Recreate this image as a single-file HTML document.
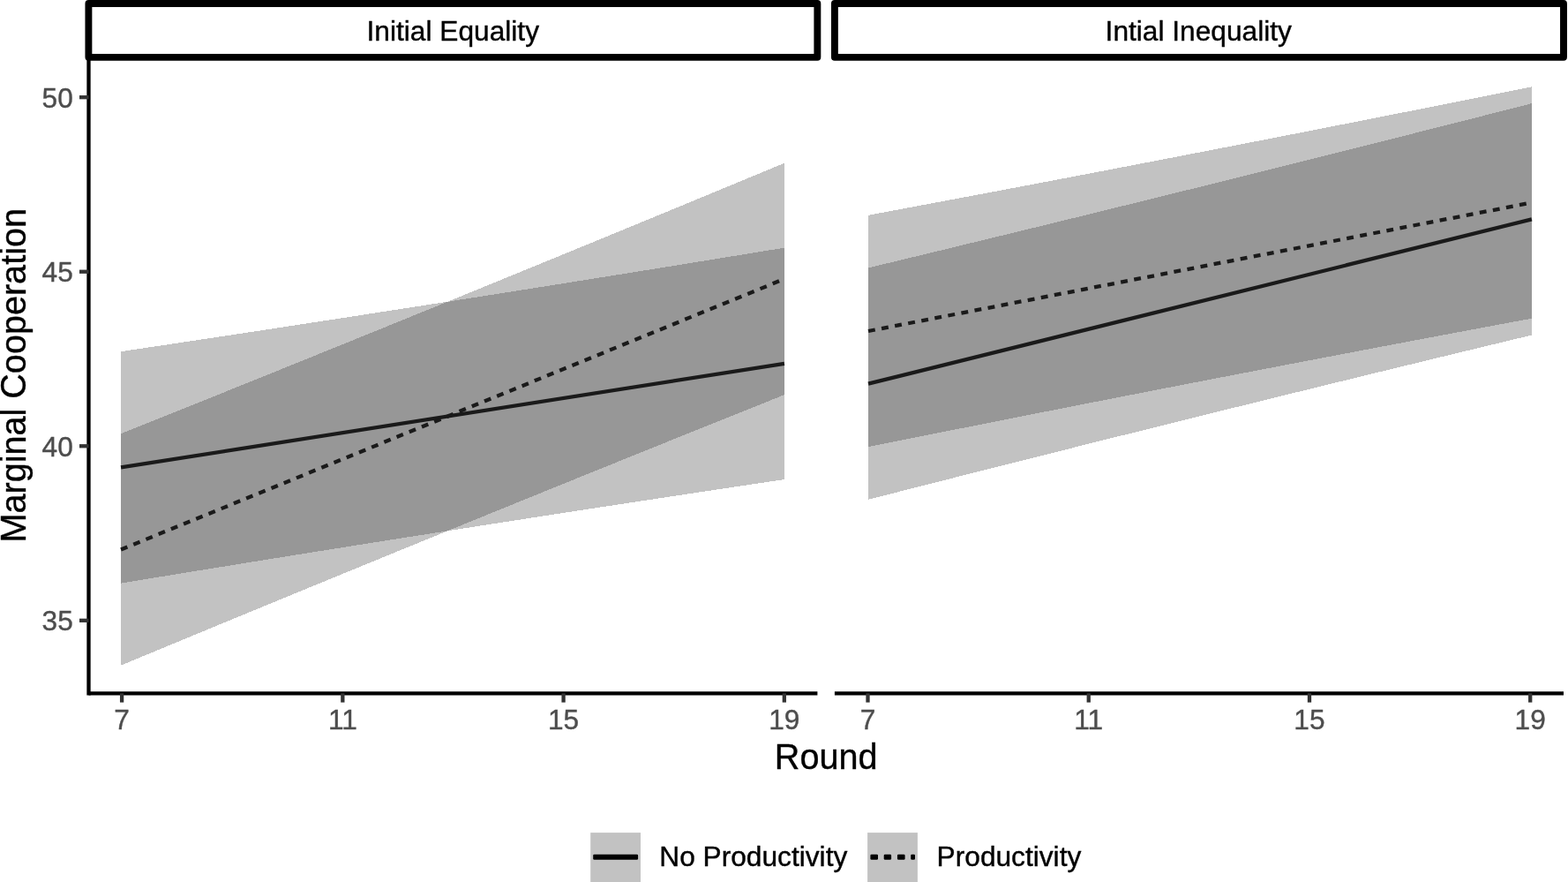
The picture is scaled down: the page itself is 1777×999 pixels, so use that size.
<!DOCTYPE html>
<html lang="en"><head><meta charset="utf-8"><title>Marginal Cooperation by Round</title>
<style>
html,body{margin:0;padding:0;background:#fff;}
body{width:1777px;height:999px;overflow:hidden;}
svg{display:block;}
text{font-family:"Liberation Sans",Arial,Helvetica,sans-serif;}
.sm{font-size:31.68px;}
.bg{font-size:39.6px;}
</style></head><body>
<svg width="1777" height="999" viewBox="0 0 1777 999">
<rect width="1777" height="999" fill="#fff"/>
<g shape-rendering="crispEdges">
<polygon points="137.05,398.20 144.88,397.03 152.71,395.86 160.55,394.70 168.38,393.52 176.21,392.35 184.04,391.18 191.87,390.01 199.70,388.83 207.54,387.65 215.37,386.48 223.20,385.30 231.03,384.12 238.86,382.94 246.69,381.75 254.53,380.57 262.36,379.38 270.19,378.20 278.02,377.01 285.85,375.82 293.69,374.63 301.52,373.44 309.35,372.25 317.18,371.06 325.01,369.86 332.84,368.67 340.68,367.47 348.51,366.27 356.34,365.07 364.17,363.87 372.00,362.67 379.83,361.46 387.67,360.26 395.50,359.05 403.33,357.85 411.16,356.64 418.99,355.43 426.83,354.22 434.66,353.01 442.49,351.80 450.32,350.58 458.15,349.37 465.98,348.15 473.82,346.93 481.65,345.71 489.48,344.49 497.31,343.27 505.14,342.05 512.97,340.82 520.81,339.60 528.64,338.37 536.47,337.15 544.30,335.92 552.13,334.69 559.97,333.46 567.80,332.22 575.63,330.99 583.46,329.76 591.29,328.52 599.12,327.28 606.96,326.04 614.79,324.80 622.62,323.56 630.45,322.32 638.28,321.08 646.12,319.83 653.95,318.59 661.78,317.34 669.61,316.09 677.44,314.84 685.27,313.59 693.11,312.34 700.94,311.09 708.77,309.83 716.60,308.58 724.43,307.32 732.26,306.06 740.10,304.80 747.93,303.54 755.76,302.28 763.59,301.02 771.42,299.75 779.26,298.49 787.09,297.22 794.92,295.95 802.75,294.69 810.58,293.42 818.41,292.14 826.25,290.87 834.08,289.60 841.91,288.32 849.74,287.05 857.57,285.77 865.40,284.49 873.24,283.21 881.07,281.93 888.90,280.65 888.90,543.05 881.07,544.22 873.24,545.39 865.40,546.55 857.57,547.73 849.74,548.90 841.91,550.07 834.08,551.24 826.25,552.42 818.41,553.60 810.58,554.77 802.75,555.95 794.92,557.13 787.09,558.31 779.26,559.50 771.42,560.68 763.59,561.87 755.76,563.05 747.93,564.24 740.10,565.43 732.26,566.62 724.43,567.81 716.60,569.00 708.77,570.19 700.94,571.39 693.11,572.58 685.27,573.78 677.44,574.98 669.61,576.18 661.78,577.38 653.95,578.58 646.12,579.79 638.28,580.99 630.45,582.20 622.62,583.40 614.79,584.61 606.96,585.82 599.12,587.03 591.29,588.24 583.46,589.45 575.63,590.67 567.80,591.88 559.97,593.10 552.13,594.32 544.30,595.54 536.47,596.76 528.64,597.98 520.81,599.20 512.97,600.42 505.14,601.65 497.31,602.88 489.48,604.10 481.65,605.33 473.82,606.56 465.98,607.79 458.15,609.03 450.32,610.26 442.49,611.49 434.66,612.73 426.83,613.97 418.99,615.21 411.16,616.45 403.33,617.69 395.50,618.93 387.67,620.17 379.83,621.42 372.00,622.66 364.17,623.91 356.34,625.16 348.51,626.41 340.68,627.66 332.84,628.91 325.01,630.16 317.18,631.42 309.35,632.67 301.52,633.93 293.69,635.19 285.85,636.45 278.02,637.71 270.19,638.97 262.36,640.23 254.53,641.50 246.69,642.76 238.86,644.03 231.03,645.30 223.20,646.56 215.37,647.83 207.54,649.11 199.70,650.38 191.87,651.65 184.04,652.93 176.21,654.20 168.38,655.48 160.55,656.76 152.71,658.04 144.88,659.32 137.05,660.60" fill="#c2c2c2"/>
<polygon points="137.05,491.25 144.88,488.11 152.71,484.98 160.55,481.84 168.38,478.70 176.21,475.56 184.04,472.42 191.87,469.28 199.70,466.13 207.54,462.99 215.37,459.84 223.20,456.70 231.03,453.55 238.86,450.40 246.69,447.25 254.53,444.10 262.36,440.94 270.19,437.79 278.02,434.63 285.85,431.48 293.69,428.32 301.52,425.16 309.35,422.00 317.18,418.84 325.01,415.67 332.84,412.51 340.68,409.34 348.51,406.18 356.34,403.01 364.17,399.84 372.00,396.67 379.83,393.50 387.67,390.33 395.50,387.15 403.33,383.98 411.16,380.80 418.99,377.62 426.83,374.45 434.66,371.27 442.49,368.08 450.32,364.90 458.15,361.72 465.98,358.53 473.82,355.35 481.65,352.16 489.48,348.97 497.31,345.78 505.14,342.59 512.97,339.40 520.81,336.21 528.64,333.01 536.47,329.82 544.30,326.62 552.13,323.42 559.97,320.22 567.80,317.02 575.63,313.82 583.46,310.62 591.29,307.41 599.12,304.21 606.96,301.00 614.79,297.79 622.62,294.58 630.45,291.37 638.28,288.16 646.12,284.95 653.95,281.73 661.78,278.52 669.61,275.30 677.44,272.08 685.27,268.87 693.11,265.64 700.94,262.42 708.77,259.20 716.60,255.98 724.43,252.75 732.26,249.53 740.10,246.30 747.93,243.07 755.76,239.84 763.59,236.61 771.42,233.38 779.26,230.14 787.09,226.91 794.92,223.67 802.75,220.44 810.58,217.20 818.41,213.96 826.25,210.72 834.08,207.48 841.91,204.23 849.74,200.99 857.57,197.74 865.40,194.50 873.24,191.25 881.07,188.00 888.90,184.75 888.90,447.15 881.07,450.29 873.24,453.42 865.40,456.56 857.57,459.70 849.74,462.84 841.91,465.98 834.08,469.12 826.25,472.27 818.41,475.41 810.58,478.56 802.75,481.70 794.92,484.85 787.09,488.00 779.26,491.15 771.42,494.30 763.59,497.46 755.76,500.61 747.93,503.77 740.10,506.92 732.26,510.08 724.43,513.24 716.60,516.40 708.77,519.56 700.94,522.73 693.11,525.89 685.27,529.06 677.44,532.22 669.61,535.39 661.78,538.56 653.95,541.73 646.12,544.90 638.28,548.07 630.45,551.25 622.62,554.42 614.79,557.60 606.96,560.78 599.12,563.95 591.29,567.13 583.46,570.32 575.63,573.50 567.80,576.68 559.97,579.87 552.13,583.05 544.30,586.24 536.47,589.43 528.64,592.62 520.81,595.81 512.97,599.00 505.14,602.19 497.31,605.39 489.48,608.58 481.65,611.78 473.82,614.98 465.98,618.18 458.15,621.38 450.32,624.58 442.49,627.78 434.66,630.99 426.83,634.19 418.99,637.40 411.16,640.61 403.33,643.82 395.50,647.03 387.67,650.24 379.83,653.45 372.00,656.67 364.17,659.88 356.34,663.10 348.51,666.32 340.68,669.53 332.84,672.76 325.01,675.98 317.18,679.20 309.35,682.42 301.52,685.65 293.69,688.87 285.85,692.10 278.02,695.33 270.19,698.56 262.36,701.79 254.53,705.02 246.69,708.26 238.86,711.49 231.03,714.73 223.20,717.96 215.37,721.20 207.54,724.44 199.70,727.68 191.87,730.92 184.04,734.17 176.21,737.41 168.38,740.66 160.55,743.90 152.71,747.15 144.88,750.40 137.05,753.65" fill="#c2c2c2"/>
<polygon points="137.05,491.25 144.88,488.11 152.71,484.98 160.55,481.84 168.38,478.70 176.21,475.56 184.04,472.42 191.87,469.28 199.70,466.13 207.54,462.99 215.37,459.84 223.20,456.70 231.03,453.55 238.86,450.40 246.69,447.25 254.53,444.10 262.36,440.94 270.19,437.79 278.02,434.63 285.85,431.48 293.69,428.32 301.52,425.16 309.35,422.00 317.18,418.84 325.01,415.67 332.84,412.51 340.68,409.34 348.51,406.18 356.34,403.01 364.17,399.84 372.00,396.67 379.83,393.50 387.67,390.33 395.50,387.15 403.33,383.98 411.16,380.80 418.99,377.62 426.83,374.45 434.66,371.27 442.49,368.08 450.32,364.90 458.15,361.72 465.98,358.53 473.82,355.35 481.65,352.16 489.48,348.97 497.31,345.78 505.14,342.59 512.97,340.82 520.81,339.60 528.64,338.37 536.47,337.15 544.30,335.92 552.13,334.69 559.97,333.46 567.80,332.22 575.63,330.99 583.46,329.76 591.29,328.52 599.12,327.28 606.96,326.04 614.79,324.80 622.62,323.56 630.45,322.32 638.28,321.08 646.12,319.83 653.95,318.59 661.78,317.34 669.61,316.09 677.44,314.84 685.27,313.59 693.11,312.34 700.94,311.09 708.77,309.83 716.60,308.58 724.43,307.32 732.26,306.06 740.10,304.80 747.93,303.54 755.76,302.28 763.59,301.02 771.42,299.75 779.26,298.49 787.09,297.22 794.92,295.95 802.75,294.69 810.58,293.42 818.41,292.14 826.25,290.87 834.08,289.60 841.91,288.32 849.74,287.05 857.57,285.77 865.40,284.49 873.24,283.21 881.07,281.93 888.90,280.65 888.90,447.15 881.07,450.29 873.24,453.42 865.40,456.56 857.57,459.70 849.74,462.84 841.91,465.98 834.08,469.12 826.25,472.27 818.41,475.41 810.58,478.56 802.75,481.70 794.92,484.85 787.09,488.00 779.26,491.15 771.42,494.30 763.59,497.46 755.76,500.61 747.93,503.77 740.10,506.92 732.26,510.08 724.43,513.24 716.60,516.40 708.77,519.56 700.94,522.73 693.11,525.89 685.27,529.06 677.44,532.22 669.61,535.39 661.78,538.56 653.95,541.73 646.12,544.90 638.28,548.07 630.45,551.25 622.62,554.42 614.79,557.60 606.96,560.78 599.12,563.95 591.29,567.13 583.46,570.32 575.63,573.50 567.80,576.68 559.97,579.87 552.13,583.05 544.30,586.24 536.47,589.43 528.64,592.62 520.81,595.81 512.97,599.00 505.14,601.65 497.31,602.88 489.48,604.10 481.65,605.33 473.82,606.56 465.98,607.79 458.15,609.03 450.32,610.26 442.49,611.49 434.66,612.73 426.83,613.97 418.99,615.21 411.16,616.45 403.33,617.69 395.50,618.93 387.67,620.17 379.83,621.42 372.00,622.66 364.17,623.91 356.34,625.16 348.51,626.41 340.68,627.66 332.84,628.91 325.01,630.16 317.18,631.42 309.35,632.67 301.52,633.93 293.69,635.19 285.85,636.45 278.02,637.71 270.19,638.97 262.36,640.23 254.53,641.50 246.69,642.76 238.86,644.03 231.03,645.30 223.20,646.56 215.37,647.83 207.54,649.11 199.70,650.38 191.87,651.65 184.04,652.93 176.21,654.20 168.38,655.48 160.55,656.76 152.71,658.04 144.88,659.32 137.05,660.60" fill="#979797"/>
</g>
<line x1="137.05" y1="529.40" x2="888.90" y2="411.85" stroke="#1a1a1a" stroke-width="4.3"/>
<line x1="137.05" y1="622.45" x2="888.90" y2="315.95" stroke="#1a1a1a" stroke-width="4.3" stroke-dasharray="7.9 7.44"/>
<g shape-rendering="crispEdges">
<polygon points="984.00,303.40 991.83,301.52 999.66,299.63 1007.50,297.75 1015.33,295.86 1023.16,293.97 1030.99,292.09 1038.83,290.20 1046.66,288.31 1054.49,286.41 1062.32,284.52 1070.16,282.63 1077.99,280.73 1085.82,278.83 1093.65,276.93 1101.48,275.03 1109.32,273.13 1117.15,271.23 1124.98,269.33 1132.81,267.43 1140.65,265.52 1148.48,263.61 1156.31,261.71 1164.14,259.80 1171.97,257.89 1179.81,255.97 1187.64,254.06 1195.47,252.15 1203.30,250.23 1211.14,248.32 1218.97,246.40 1226.80,244.48 1234.63,242.56 1242.47,240.64 1250.30,238.72 1258.13,236.79 1265.96,234.87 1273.79,232.94 1281.63,231.01 1289.46,229.09 1297.29,227.16 1305.12,225.23 1312.96,223.29 1320.79,221.36 1328.62,219.43 1336.45,217.49 1344.29,215.55 1352.12,213.61 1359.95,211.68 1367.78,209.73 1375.61,207.79 1383.45,205.85 1391.28,203.90 1399.11,201.96 1406.94,200.01 1414.78,198.06 1422.61,196.12 1430.44,194.16 1438.27,192.21 1446.11,190.26 1453.94,188.31 1461.77,186.35 1469.60,184.39 1477.43,182.44 1485.27,180.48 1493.10,178.52 1500.93,176.56 1508.76,174.59 1516.60,172.63 1524.43,170.66 1532.26,168.70 1540.09,166.73 1547.93,164.76 1555.76,162.79 1563.59,160.82 1571.42,158.85 1579.25,156.87 1587.09,154.90 1594.92,152.92 1602.75,150.95 1610.58,148.97 1618.42,146.99 1626.25,145.01 1634.08,143.03 1641.91,141.04 1649.74,139.06 1657.58,137.07 1665.41,135.09 1673.24,133.10 1681.07,131.11 1688.91,129.12 1696.74,127.13 1704.57,125.13 1712.40,123.14 1720.24,121.14 1728.07,119.15 1735.90,117.15 1735.90,379.55 1728.07,381.43 1720.24,383.32 1712.40,385.20 1704.57,387.09 1696.74,388.98 1688.91,390.86 1681.07,392.75 1673.24,394.64 1665.41,396.54 1657.58,398.43 1649.74,400.32 1641.91,402.22 1634.08,404.12 1626.25,406.02 1618.42,407.92 1610.58,409.82 1602.75,411.72 1594.92,413.62 1587.09,415.52 1579.25,417.43 1571.42,419.34 1563.59,421.24 1555.76,423.15 1547.93,425.06 1540.09,426.98 1532.26,428.89 1524.43,430.80 1516.60,432.72 1508.76,434.63 1500.93,436.55 1493.10,438.47 1485.27,440.39 1477.43,442.31 1469.60,444.23 1461.77,446.16 1453.94,448.08 1446.11,450.01 1438.27,451.94 1430.44,453.86 1422.61,455.79 1414.78,457.72 1406.94,459.66 1399.11,461.59 1391.28,463.52 1383.45,465.46 1375.61,467.40 1367.78,469.34 1359.95,471.28 1352.12,473.22 1344.29,475.16 1336.45,477.10 1328.62,479.05 1320.79,480.99 1312.96,482.94 1305.12,484.89 1297.29,486.83 1289.46,488.79 1281.63,490.74 1273.79,492.69 1265.96,494.64 1258.13,496.60 1250.30,498.56 1242.47,500.51 1234.63,502.47 1226.80,504.43 1218.97,506.39 1211.14,508.36 1203.30,510.32 1195.47,512.29 1187.64,514.25 1179.81,516.22 1171.97,518.19 1164.14,520.16 1156.31,522.13 1148.48,524.10 1140.65,526.08 1132.81,528.05 1124.98,530.03 1117.15,532.00 1109.32,533.98 1101.48,535.96 1093.65,537.94 1085.82,539.92 1077.99,541.91 1070.16,543.89 1062.32,545.88 1054.49,547.86 1046.66,549.85 1038.83,551.84 1030.99,553.83 1023.16,555.82 1015.33,557.82 1007.50,559.81 999.66,561.81 991.83,563.80 984.00,565.80" fill="#c2c2c2"/>
<polygon points="984.00,243.80 991.83,242.34 999.66,240.88 1007.50,239.42 1015.33,237.96 1023.16,236.50 1030.99,235.03 1038.83,233.57 1046.66,232.10 1054.49,230.63 1062.32,229.16 1070.16,227.69 1077.99,226.22 1085.82,224.75 1093.65,223.28 1101.48,221.80 1109.32,220.33 1117.15,218.85 1124.98,217.37 1132.81,215.89 1140.65,214.41 1148.48,212.93 1156.31,211.44 1164.14,209.96 1171.97,208.47 1179.81,206.99 1187.64,205.50 1195.47,204.01 1203.30,202.52 1211.14,201.03 1218.97,199.53 1226.80,198.04 1234.63,196.54 1242.47,195.05 1250.30,193.55 1258.13,192.05 1265.96,190.55 1273.79,189.05 1281.63,187.55 1289.46,186.04 1297.29,184.54 1305.12,183.03 1312.96,181.52 1320.79,180.01 1328.62,178.50 1336.45,176.99 1344.29,175.48 1352.12,173.97 1359.95,172.45 1367.78,170.93 1375.61,169.42 1383.45,167.90 1391.28,166.38 1399.11,164.86 1406.94,163.33 1414.78,161.81 1422.61,160.29 1430.44,158.76 1438.27,157.23 1446.11,155.70 1453.94,154.17 1461.77,152.64 1469.60,151.11 1477.43,149.58 1485.27,148.04 1493.10,146.51 1500.93,144.97 1508.76,143.43 1516.60,141.89 1524.43,140.35 1532.26,138.81 1540.09,137.27 1547.93,135.72 1555.76,134.18 1563.59,132.63 1571.42,131.08 1579.25,129.53 1587.09,127.98 1594.92,126.43 1602.75,124.88 1610.58,123.33 1618.42,121.77 1626.25,120.21 1634.08,118.66 1641.91,117.10 1649.74,115.54 1657.58,113.98 1665.41,112.41 1673.24,110.85 1681.07,109.29 1688.91,107.72 1696.74,106.15 1704.57,104.59 1712.40,103.02 1720.24,101.44 1728.07,99.87 1735.90,98.30 1735.90,360.70 1728.07,362.16 1720.24,363.62 1712.40,365.08 1704.57,366.54 1696.74,368.00 1688.91,369.47 1681.07,370.93 1673.24,372.40 1665.41,373.87 1657.58,375.34 1649.74,376.81 1641.91,378.28 1634.08,379.75 1626.25,381.22 1618.42,382.70 1610.58,384.17 1602.75,385.65 1594.92,387.13 1587.09,388.61 1579.25,390.09 1571.42,391.57 1563.59,393.06 1555.76,394.54 1547.93,396.03 1540.09,397.51 1532.26,399.00 1524.43,400.49 1516.60,401.98 1508.76,403.47 1500.93,404.97 1493.10,406.46 1485.27,407.96 1477.43,409.45 1469.60,410.95 1461.77,412.45 1453.94,413.95 1446.11,415.45 1438.27,416.95 1430.44,418.46 1422.61,419.96 1414.78,421.47 1406.94,422.98 1399.11,424.49 1391.28,426.00 1383.45,427.51 1375.61,429.02 1367.78,430.53 1359.95,432.05 1352.12,433.57 1344.29,435.08 1336.45,436.60 1328.62,438.12 1320.79,439.64 1312.96,441.17 1305.12,442.69 1297.29,444.21 1289.46,445.74 1281.63,447.27 1273.79,448.80 1265.96,450.33 1258.13,451.86 1250.30,453.39 1242.47,454.92 1234.63,456.46 1226.80,457.99 1218.97,459.53 1211.14,461.07 1203.30,462.61 1195.47,464.15 1187.64,465.69 1179.81,467.23 1171.97,468.78 1164.14,470.32 1156.31,471.87 1148.48,473.42 1140.65,474.97 1132.81,476.52 1124.98,478.07 1117.15,479.62 1109.32,481.17 1101.48,482.73 1093.65,484.29 1085.82,485.84 1077.99,487.40 1070.16,488.96 1062.32,490.52 1054.49,492.09 1046.66,493.65 1038.83,495.21 1030.99,496.78 1023.16,498.35 1015.33,499.91 1007.50,501.48 999.66,503.06 991.83,504.63 984.00,506.20" fill="#c2c2c2"/>
<polygon points="984.00,303.40 991.83,301.52 999.66,299.63 1007.50,297.75 1015.33,295.86 1023.16,293.97 1030.99,292.09 1038.83,290.20 1046.66,288.31 1054.49,286.41 1062.32,284.52 1070.16,282.63 1077.99,280.73 1085.82,278.83 1093.65,276.93 1101.48,275.03 1109.32,273.13 1117.15,271.23 1124.98,269.33 1132.81,267.43 1140.65,265.52 1148.48,263.61 1156.31,261.71 1164.14,259.80 1171.97,257.89 1179.81,255.97 1187.64,254.06 1195.47,252.15 1203.30,250.23 1211.14,248.32 1218.97,246.40 1226.80,244.48 1234.63,242.56 1242.47,240.64 1250.30,238.72 1258.13,236.79 1265.96,234.87 1273.79,232.94 1281.63,231.01 1289.46,229.09 1297.29,227.16 1305.12,225.23 1312.96,223.29 1320.79,221.36 1328.62,219.43 1336.45,217.49 1344.29,215.55 1352.12,213.61 1359.95,211.68 1367.78,209.73 1375.61,207.79 1383.45,205.85 1391.28,203.90 1399.11,201.96 1406.94,200.01 1414.78,198.06 1422.61,196.12 1430.44,194.16 1438.27,192.21 1446.11,190.26 1453.94,188.31 1461.77,186.35 1469.60,184.39 1477.43,182.44 1485.27,180.48 1493.10,178.52 1500.93,176.56 1508.76,174.59 1516.60,172.63 1524.43,170.66 1532.26,168.70 1540.09,166.73 1547.93,164.76 1555.76,162.79 1563.59,160.82 1571.42,158.85 1579.25,156.87 1587.09,154.90 1594.92,152.92 1602.75,150.95 1610.58,148.97 1618.42,146.99 1626.25,145.01 1634.08,143.03 1641.91,141.04 1649.74,139.06 1657.58,137.07 1665.41,135.09 1673.24,133.10 1681.07,131.11 1688.91,129.12 1696.74,127.13 1704.57,125.13 1712.40,123.14 1720.24,121.14 1728.07,119.15 1735.90,117.15 1735.90,360.70 1728.07,362.16 1720.24,363.62 1712.40,365.08 1704.57,366.54 1696.74,368.00 1688.91,369.47 1681.07,370.93 1673.24,372.40 1665.41,373.87 1657.58,375.34 1649.74,376.81 1641.91,378.28 1634.08,379.75 1626.25,381.22 1618.42,382.70 1610.58,384.17 1602.75,385.65 1594.92,387.13 1587.09,388.61 1579.25,390.09 1571.42,391.57 1563.59,393.06 1555.76,394.54 1547.93,396.03 1540.09,397.51 1532.26,399.00 1524.43,400.49 1516.60,401.98 1508.76,403.47 1500.93,404.97 1493.10,406.46 1485.27,407.96 1477.43,409.45 1469.60,410.95 1461.77,412.45 1453.94,413.95 1446.11,415.45 1438.27,416.95 1430.44,418.46 1422.61,419.96 1414.78,421.47 1406.94,422.98 1399.11,424.49 1391.28,426.00 1383.45,427.51 1375.61,429.02 1367.78,430.53 1359.95,432.05 1352.12,433.57 1344.29,435.08 1336.45,436.60 1328.62,438.12 1320.79,439.64 1312.96,441.17 1305.12,442.69 1297.29,444.21 1289.46,445.74 1281.63,447.27 1273.79,448.80 1265.96,450.33 1258.13,451.86 1250.30,453.39 1242.47,454.92 1234.63,456.46 1226.80,457.99 1218.97,459.53 1211.14,461.07 1203.30,462.61 1195.47,464.15 1187.64,465.69 1179.81,467.23 1171.97,468.78 1164.14,470.32 1156.31,471.87 1148.48,473.42 1140.65,474.97 1132.81,476.52 1124.98,478.07 1117.15,479.62 1109.32,481.17 1101.48,482.73 1093.65,484.29 1085.82,485.84 1077.99,487.40 1070.16,488.96 1062.32,490.52 1054.49,492.09 1046.66,493.65 1038.83,495.21 1030.99,496.78 1023.16,498.35 1015.33,499.91 1007.50,501.48 999.66,503.06 991.83,504.63 984.00,506.20" fill="#979797"/>
</g>
<line x1="984.00" y1="434.60" x2="1735.90" y2="248.35" stroke="#1a1a1a" stroke-width="4.3"/>
<line x1="984.00" y1="375.00" x2="1735.90" y2="229.50" stroke="#1a1a1a" stroke-width="4.3" stroke-dasharray="7.9 7.44"/>
<line x1="100.50" y1="785.30" x2="926.40" y2="785.30" stroke="#000" stroke-width="4.3"/>
<line x1="138.10" y1="785.30" x2="138.10" y2="795.60" stroke="#333" stroke-width="4.3"/>
<text class="sm" transform="translate(138.10,826.40) scale(1,1.015)" text-anchor="middle" fill="#4d4d4d" stroke="#4d4d4d" stroke-width="0.4">7</text>
<line x1="388.34" y1="785.30" x2="388.34" y2="795.60" stroke="#333" stroke-width="4.3"/>
<text class="sm" transform="translate(388.34,826.40) scale(1,1.015)" text-anchor="middle" fill="#4d4d4d" stroke="#4d4d4d" stroke-width="0.4">11</text>
<line x1="638.58" y1="785.30" x2="638.58" y2="795.60" stroke="#333" stroke-width="4.3"/>
<text class="sm" transform="translate(638.58,826.40) scale(1,1.015)" text-anchor="middle" fill="#4d4d4d" stroke="#4d4d4d" stroke-width="0.4">15</text>
<line x1="888.82" y1="785.30" x2="888.82" y2="795.60" stroke="#333" stroke-width="4.3"/>
<text class="sm" transform="translate(888.82,826.40) scale(1,1.015)" text-anchor="middle" fill="#4d4d4d" stroke="#4d4d4d" stroke-width="0.4">19</text>
<line x1="945.90" y1="785.30" x2="1772.00" y2="785.30" stroke="#000" stroke-width="4.3"/>
<line x1="983.50" y1="785.30" x2="983.50" y2="795.60" stroke="#333" stroke-width="4.3"/>
<text class="sm" transform="translate(983.50,826.40) scale(1,1.015)" text-anchor="middle" fill="#4d4d4d" stroke="#4d4d4d" stroke-width="0.4">7</text>
<line x1="1233.74" y1="785.30" x2="1233.74" y2="795.60" stroke="#333" stroke-width="4.3"/>
<text class="sm" transform="translate(1233.74,826.40) scale(1,1.015)" text-anchor="middle" fill="#4d4d4d" stroke="#4d4d4d" stroke-width="0.4">11</text>
<line x1="1483.98" y1="785.30" x2="1483.98" y2="795.60" stroke="#333" stroke-width="4.3"/>
<text class="sm" transform="translate(1483.98,826.40) scale(1,1.015)" text-anchor="middle" fill="#4d4d4d" stroke="#4d4d4d" stroke-width="0.4">15</text>
<line x1="1734.22" y1="785.30" x2="1734.22" y2="795.60" stroke="#333" stroke-width="4.3"/>
<text class="sm" transform="translate(1734.22,826.40) scale(1,1.015)" text-anchor="middle" fill="#4d4d4d" stroke="#4d4d4d" stroke-width="0.4">19</text>
<line x1="100.5" y1="64.85" x2="100.5" y2="785.30" stroke="#000" stroke-width="4.3" stroke-linecap="square"/>
<line x1="90.0" y1="702.80" x2="100.5" y2="702.80" stroke="#333" stroke-width="4.3"/>
<text class="sm" transform="translate(82.80,714.30) scale(1,1.015)" text-anchor="end" fill="#4d4d4d" stroke="#4d4d4d" stroke-width="0.4">35</text>
<line x1="90.0" y1="505.26" x2="100.5" y2="505.26" stroke="#333" stroke-width="4.3"/>
<text class="sm" transform="translate(82.80,516.76) scale(1,1.015)" text-anchor="end" fill="#4d4d4d" stroke="#4d4d4d" stroke-width="0.4">40</text>
<line x1="90.0" y1="307.73" x2="100.5" y2="307.73" stroke="#333" stroke-width="4.3"/>
<text class="sm" transform="translate(82.80,319.23) scale(1,1.015)" text-anchor="end" fill="#4d4d4d" stroke="#4d4d4d" stroke-width="0.4">45</text>
<line x1="90.0" y1="110.19" x2="100.5" y2="110.19" stroke="#333" stroke-width="4.3"/>
<text class="sm" transform="translate(82.80,121.69) scale(1,1.015)" text-anchor="end" fill="#4d4d4d" stroke="#4d4d4d" stroke-width="0.4">50</text>
<rect x="100.40" y="3.95" width="825.95" height="60.9" fill="#fff" stroke="#000" stroke-width="7.9" stroke-linejoin="round"/>
<text class="sm" transform="translate(513.27,45.90) scale(1,1)" text-anchor="middle" fill="#000" stroke="#000" stroke-width="0.4">Initial Equality</text>
<rect x="945.90" y="3.95" width="826.10" height="60.9" fill="#fff" stroke="#000" stroke-width="7.9" stroke-linejoin="round"/>
<text class="sm" transform="translate(1358.25,45.90) scale(1,1)" text-anchor="middle" fill="#000" stroke="#000" stroke-width="0.4">Intial Inequality</text>
<text class="bg" transform="translate(936.15,871.20) scale(1,1.03)" text-anchor="middle" fill="#000" stroke="#000" stroke-width="0.4">Round</text>
<text class="bg" transform="translate(29.00,425.30) rotate(-90) scale(1,1.03)" text-anchor="middle" fill="#000" stroke="#000" stroke-width="0.4">Marginal Cooperation</text>
<rect x="669.2" y="943.1" width="56.8" height="56.9" fill="#c2c2c2"/>
<rect x="672.2" y="967.8" width="50.9" height="6" rx="1.3" fill="#000"/>
<text class="sm" transform="translate(747.30,981.20) scale(1,1)" text-anchor="start" fill="#000" stroke="#000" stroke-width="0.4">No Productivity</text>
<rect x="983.1" y="943.1" width="56.8" height="56.9" fill="#c2c2c2"/>
<rect x="986.40" y="967.8" width="8.60" height="6" rx="1.3" fill="#000"/>
<rect x="1001.70" y="967.8" width="8.40" height="6" rx="1.3" fill="#000"/>
<rect x="1016.95" y="967.8" width="8.65" height="6" rx="1.3" fill="#000"/>
<rect x="1032.20" y="967.8" width="4.80" height="6" rx="1.3" fill="#000"/>
<text class="sm" transform="translate(1061.60,981.20) scale(1,1)" text-anchor="start" fill="#000" stroke="#000" stroke-width="0.4">Productivity</text>
</svg></body></html>
